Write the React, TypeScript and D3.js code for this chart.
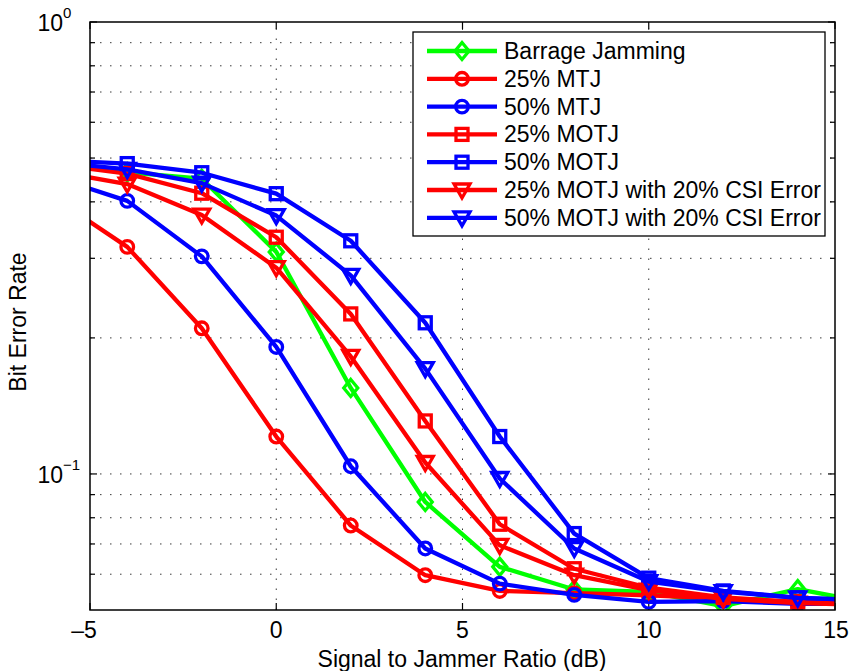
import React from 'react';
import * as d3 from 'd3';

// Signal to jammer ratio sample points (dB); the axis shows -5..15
const snr = [-6, -4, -2, 0, 2, 4, 6, 8, 10, 12, 14, 16];

// Bit error rate for each jamming scenario
const barrage = [0.49, 0.465, 0.45, 0.31, 0.155, 0.0867, 0.0623, 0.0555, 0.0548, 0.051, 0.0556, 0.0517];
const mtj25 = [0.41, 0.318, 0.21, 0.121, 0.0769, 0.0597, 0.0551, 0.0545, 0.0539, 0.053, 0.0521, 0.0515];
const mtj50 = [0.455, 0.402, 0.303, 0.191, 0.104, 0.0684, 0.0572, 0.054, 0.0521, 0.0523, 0.0516, 0.0516];
const motj25 = [0.485, 0.462, 0.418, 0.334, 0.226, 0.131, 0.0774, 0.0617, 0.056, 0.0533, 0.0521, 0.0515];
const motj50 = [0.495, 0.486, 0.464, 0.417, 0.328, 0.216, 0.121, 0.0738, 0.0588, 0.0551, 0.0532, 0.0525];
const motj25csi = [0.468, 0.438, 0.374, 0.286, 0.182, 0.106, 0.0695, 0.0597, 0.0553, 0.0529, 0.0518, 0.0512];
const motj50csi = [0.49, 0.472, 0.44, 0.373, 0.275, 0.171, 0.0977, 0.0684, 0.0578, 0.0549, 0.0532, 0.0525];

const seriesLabels = [
  'Barrage Jamming',
  '25% MTJ',
  '50% MTJ',
  '25% MOTJ',
  '50% MOTJ',
  '25% MOTJ with 20% CSI Error',
  '50% MOTJ with 20% CSI Error',
];

const xTicks = [-5, 0, 5, 10, 15];
const xTickLabels = ['\u20135', '0', '5', '10', '15'];
const yMajor = [0.1, 1];
const yMinor = [0.06, 0.07, 0.08, 0.09, 0.2, 0.3, 0.4, 0.5, 0.6, 0.7, 0.8, 0.9];

type MarkerKind = 'diamond' | 'circle' | 'square' | 'triangle';

const series: { label: string; values: number[]; color: string; marker: MarkerKind }[] = [
  { label: seriesLabels[0], values: barrage, color: '#00ff00', marker: 'diamond' },
  { label: seriesLabels[1], values: mtj25, color: '#ff0000', marker: 'circle' },
  { label: seriesLabels[2], values: mtj50, color: '#0000ff', marker: 'circle' },
  { label: seriesLabels[3], values: motj25, color: '#ff0000', marker: 'square' },
  { label: seriesLabels[4], values: motj50, color: '#0000ff', marker: 'square' },
  { label: seriesLabels[5], values: motj25csi, color: '#ff0000', marker: 'triangle' },
  { label: seriesLabels[6], values: motj50csi, color: '#0000ff', marker: 'triangle' },
];

const W = 849;
const H = 671;
const plot = { left: 90, right: 835, top: 22, bottom: 610 };
const FONT = '"Liberation Sans", Arial, Helvetica, sans-serif';
const FS = 23;
const LW = 4.3;
const MW = 3.3;

function Marker({ kind, x, y, color }: { kind: MarkerKind; x: number; y: number; color: string }) {
  const common = { fill: 'none', stroke: color, strokeWidth: MW, strokeLinejoin: 'miter' as const };
  if (kind === 'circle') return <circle cx={x} cy={y} r={6.3} {...common} />;
  if (kind === 'square') return <rect x={x - 6} y={y - 6} width={12} height={12} {...common} />;
  if (kind === 'diamond')
    return <path d={`M${x},${y - 8.5}L${x + 7},${y}L${x},${y + 8.5}L${x - 7},${y}Z`} {...common} />;
  return <path d={`M${x - 8},${y - 6}L${x + 8},${y - 6}L${x},${y + 8}Z`} {...common} />;
}

export default function App() {
  const x = d3.scaleLinear().domain([-5, 15]).range([plot.left, plot.right]);
  const y = d3.scaleLog().domain([0.05, 1]).range([plot.bottom, plot.top]);

  const line = d3
    .line<number>()
    .x((_, i) => x(snr[i]))
    .y((v) => y(v));

  const gridH = [...yMinor, 0.1];
  const gridV = xTicks.filter((t) => t > -5 && t < 15);
  const tickLen = 7;
  const minorLen = 5;

  const legend = { x: 413, y: 32, w: 412, h: 204, row0: 51, rowStep: 27.8 };

  return (
    <svg
      width={W}
      height={H}
      style={{ position: 'absolute', left: 0, top: 0, background: '#fff' }}
      fontFamily={FONT}
    >
      <defs>
        <clipPath id="plot-area">
          <rect x={plot.left} y={plot.top} width={plot.right - plot.left} height={plot.bottom - plot.top} />
        </clipPath>
      </defs>
      <rect x={0} y={0} width={W} height={H} fill="#fff" />

      {/* dotted grid */}
      <g stroke="#3a3a3a" strokeWidth={1} strokeDasharray="1.5 8.5">
        {gridH.map((v) => (
          <line key={'gh' + v} x1={plot.left} x2={plot.right} y1={y(v)} y2={y(v)} />
        ))}
        {gridV.map((t) => (
          <line key={'gv' + t} x1={x(t)} x2={x(t)} y1={plot.bottom} y2={plot.top} />
        ))}
      </g>

      {/* axis ticks */}
      <g stroke="#000" strokeWidth={1.2}>
        {xTicks.map((t) => (
          <g key={'xt' + t}>
            <line x1={x(t)} x2={x(t)} y1={plot.bottom} y2={plot.bottom - tickLen} />
            <line x1={x(t)} x2={x(t)} y1={plot.top} y2={plot.top + tickLen} />
          </g>
        ))}
        {yMajor.map((v) => (
          <g key={'ym' + v}>
            <line x1={plot.left} x2={plot.left + tickLen} y1={y(v)} y2={y(v)} />
            <line x1={plot.right} x2={plot.right - tickLen} y1={y(v)} y2={y(v)} />
          </g>
        ))}
        {yMinor.map((v) => (
          <g key={'yn' + v}>
            <line x1={plot.left} x2={plot.left + minorLen} y1={y(v)} y2={y(v)} />
            <line x1={plot.right} x2={plot.right - minorLen} y1={y(v)} y2={y(v)} />
          </g>
        ))}
      </g>

      {/* data lines and markers */}
      <g clipPath="url(#plot-area)">
        {series.map((s) => (
          <g key={s.label}>
            <path d={line(s.values) ?? ''} fill="none" stroke={s.color} strokeWidth={LW} strokeLinejoin="round" />
            {s.values.map((v, i) =>
              snr[i] >= -5 && snr[i] <= 15 ? (
                <Marker key={i} kind={s.marker} x={x(snr[i])} y={y(v)} color={s.color} />
              ) : null
            )}
          </g>
        ))}
      </g>

      {/* axes box */}
      <rect
        x={plot.left}
        y={plot.top}
        width={plot.right - plot.left}
        height={plot.bottom - plot.top}
        fill="none"
        stroke="#000"
        strokeWidth={1.5}
      />

      {/* x tick labels */}
      <g fontSize={FS} fill="#000" textAnchor="middle">
        {xTicks.map((t, i) => (
          <text key={'xl' + t} x={x(t) + (t < 0 ? -6 : t === 15 ? 1 : 0)} y={638}>
            {xTickLabels[i]}
          </text>
        ))}
      </g>

      {/* y tick labels: powers of ten */}
      <g fill="#000">
        {yMajor.map((v) => {
          const exp = Math.round(Math.log10(v));
          return (
            <g key={'yl' + v}>
              <text x={63} y={y(v) + 9} fontSize={FS} textAnchor="end">
                10
              </text>
              <text x={63} y={y(v) - 4} fontSize={15} textAnchor="start">
                {exp < 0 ? '\u2212' + Math.abs(exp) : String(exp)}
              </text>
            </g>
          );
        })}
      </g>

      {/* axis titles */}
      <text x={462} y={667} fontSize={FS} textAnchor="middle" fill="#000">
        Signal to Jammer Ratio (dB)
      </text>
      <text transform={`translate(26, 322) rotate(-90)`} fontSize={FS} textAnchor="middle" fill="#000">
        Bit Error Rate
      </text>

      {/* legend */}
      <g>
        <rect x={legend.x} y={legend.y} width={legend.w} height={legend.h} fill="#fff" stroke="#000" strokeWidth={1.3} />
        {series.map((s, i) => {
          const cy = legend.row0 + i * legend.rowStep;
          return (
            <g key={'lg' + i}>
              <line x1={427} x2={497} y1={cy} y2={cy} stroke={s.color} strokeWidth={LW} />
              <Marker kind={s.marker} x={462} y={cy} color={s.color} />
              <text x={504} y={cy + 8} fontSize={FS} fill="#000">
                {s.label}
              </text>
            </g>
          );
        })}
      </g>
    </svg>
  );
}
